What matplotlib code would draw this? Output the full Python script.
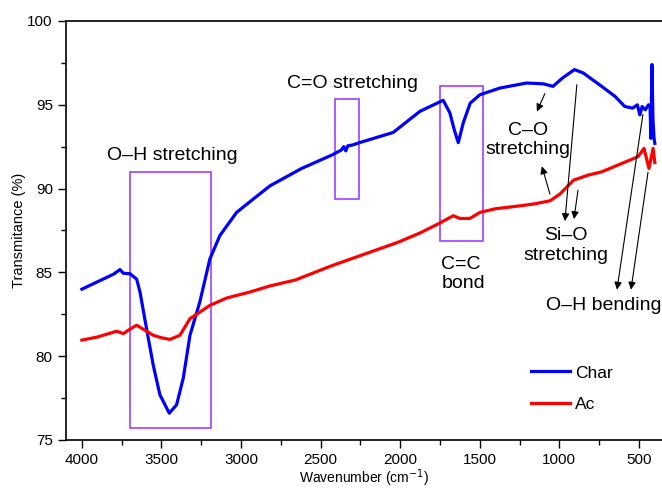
import matplotlib
matplotlib.use("Agg")
import matplotlib.pyplot as plt
from matplotlib.patches import Rectangle
from matplotlib.ticker import MultipleLocator

plt.rcParams['font.family'] = ['Liberation Sans', 'DejaVu Sans']

# Char (blue) spectrum
char_wn = [4000, 3900, 3800, 3761, 3740, 3698, 3656, 3635, 3594, 3552, 3510, 3451, 3405, 3363,
           3321, 3259, 3196, 3133, 3028, 2924, 2819, 2620, 2430, 2370, 2355, 2342, 2330, 2300,
           2253, 2044, 1876, 1730, 1688, 1660, 1635, 1604, 1560, 1499, 1373, 1206, 1100,
           1040, 980, 905, 850, 734, 650, 589, 540, 510, 494, 480, 460, 440, 430, 425, 418, 412,
           405, 400]
char_t = [84.0, 84.45, 84.9, 85.17, 84.95, 84.92, 84.6, 83.83, 81.65, 79.47, 77.7, 76.6, 77.1, 78.7,
          81.25, 83.24, 85.8, 87.2, 88.58, 89.37, 90.16, 91.2, 92.0, 92.3, 92.5, 92.25, 92.55, 92.6,
          92.75, 93.35, 94.61, 95.27, 94.52, 93.5, 92.74, 93.92, 95.1, 95.6, 96.0, 96.3, 96.25,
          96.1, 96.6, 97.1, 96.9, 96.1, 95.5, 94.9, 94.8, 95.0, 94.4, 94.9, 94.7, 95.0, 94.9,
          93.0, 97.4, 94.2, 93.0, 92.7]

# Ac (red) spectrum
ac_wn = [4000, 3900, 3782, 3740, 3700, 3656, 3552, 3500, 3447, 3384, 3321, 3196, 3091, 2944,
         2819, 2658, 2430, 2013, 1876, 1760, 1667, 1625, 1562, 1499, 1400, 1248, 1150, 1059,
         997, 911, 820, 734, 595, 506, 468, 437, 411, 400]
ac_t = [80.96, 81.15, 81.49, 81.35, 81.6, 81.85, 81.25, 81.1, 81.0, 81.25, 82.24, 83.03, 83.47, 83.83,
        84.19, 84.55, 85.4, 86.8, 87.35, 87.9, 88.38, 88.22, 88.22, 88.58, 88.8, 88.97, 89.1, 89.27,
        89.67, 90.5, 90.8, 91.0, 91.55, 91.9, 92.4, 91.2, 92.4, 91.55]

# annotation boxes: (wn_left, wn_right, t_bottom, t_top)
boxes = [(3700, 3190, 75.7, 91.0), (2411, 2259, 89.4, 95.35), (1753, 1481, 86.9, 96.1)]

# labels: (text, wn, t, ha)
labels = [("O\u2013H stretching", 3430, 92.0, 'center'),
          ("C=O stretching", 2297, 96.3, 'center'),
          ("C=C\nbond", 1741, 84.9, 'left'),
          ("C\u2013O\nstretching", 1196, 92.9, 'center'),
          ("Si\u2013O\nstretching", 956, 86.6, 'center'),
          ("O\u2013H bending", 718, 83.0, 'center')]

# arrows: (wn_from, t_from, wn_to, t_to)
arrows = [(1091, 95.67, 1141, 94.6), (1059, 89.67, 1110, 91.33),
          (890, 96.2, 965, 88.06), (883, 89.9, 908, 88.18),
          (475, 94.42, 638, 83.97), (443, 90.97, 550, 83.97)]

fig = plt.figure(figsize=(6.62, 4.88), dpi=100)
ax = fig.add_axes([66/662, 48/488, 596/662, 419/488])

ax.plot(char_wn, char_t, color='#0000FF', lw=2.3, label='Char', solid_joinstyle='round')
ax.plot(ac_wn, ac_t, color='#FF0000', lw=2.3, label='Ac', solid_joinstyle='round')

for x0, x1, y0, y1 in boxes:
    ax.add_patch(Rectangle((x1, y0), x0 - x1, y1 - y0, fill=False,
                           edgecolor='#A040FF', lw=1.2))

for txt, x, y, ha in labels:
    ax.text(x, y, txt, ha=ha, va='center', fontsize=14, linespacing=1.2)

for x0, y0, x1, y1 in arrows:
    ax.annotate('', xy=(x1, y1), xytext=(x0, y0),
                arrowprops=dict(arrowstyle='-|>', color='black', lw=0.8,
                                mutation_scale=11, shrinkA=0, shrinkB=0))

ax.set_xlim(4100, 355)
ax.set_ylim(75, 100)
ax.xaxis.set_major_locator(MultipleLocator(500))
ax.xaxis.set_minor_locator(MultipleLocator(250))
ax.yaxis.set_major_locator(MultipleLocator(5))
ax.yaxis.set_minor_locator(MultipleLocator(2.5))
ax.tick_params(which='major', direction='out', length=6, width=1, labelsize=11)
ax.tick_params(which='minor', direction='out', length=3.5, width=1)
ax.tick_params(top=False, right=False, which='both')
ax.spines['right'].set_visible(False)
for s in ['left', 'bottom', 'top']:
    ax.spines[s].set_linewidth(1.2)

ax.set_xlabel('Wavenumber (cm$^{-1}$)', fontsize=10, labelpad=0)
ax.set_ylabel('Transmitance (%)', fontsize=10.5, labelpad=1)

ax.legend(loc='upper left', bbox_to_anchor=(0.78, 0.178), frameon=False, fontsize=12.5,
          handlelength=2.25, handletextpad=0.3, labelspacing=0.95,
          borderpad=0, borderaxespad=0)

fig.savefig('out.png', dpi=100)
